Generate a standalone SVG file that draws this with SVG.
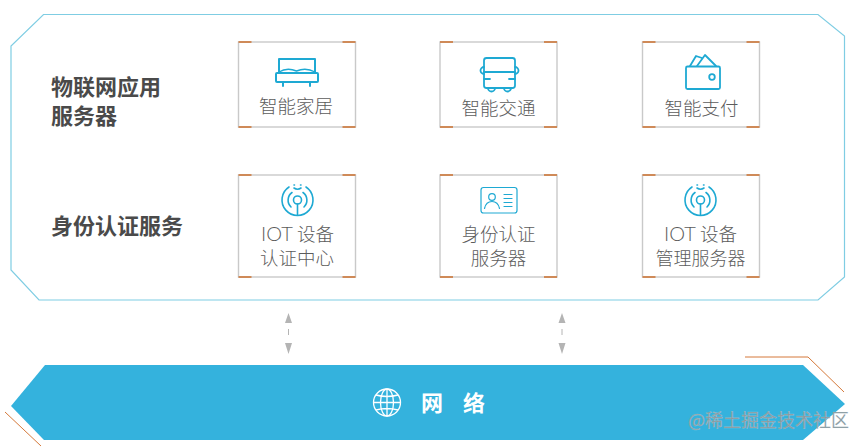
<svg xmlns="http://www.w3.org/2000/svg" width="865" height="447" viewBox="0 0 865 447">
<style>
text{font-family:"Noto Sans CJK SC","Noto Sans",sans-serif}
.card{fill:#fff;stroke:#c9c9c9;stroke-width:1.4}
.cn{fill:none;stroke:#cf8a58;stroke-width:2}
.lb{font-size:18.500px;fill:#5c5c5c;text-anchor:middle;font-weight:300}
.la{font-family:Lato,sans-serif;font-size:20px;font-weight:300}
.hd{font-size:22px;fill:#4a4a4a;font-weight:700}
.ic{fill:none;stroke:#1ea9d3;stroke-width:1.600;stroke-linejoin:round;stroke-linecap:round}
.ar{fill:#b4b4b4}
</style>
<defs>
<g id="corners"><path class="cn" d="M0 0H13M104 0H117M0 85H13M104 85H117"/></g>
<g id="corners2"><path class="cn" d="M0 0H13M104 0H117M0 102H13M104 102H117"/></g>
<g id="signal" class="ic" stroke-width="1.400">
<path d="M-8.500 -13A15.500 15.500 0 1 0 8.500 -13"/>
<path d="M-5.500 -7.500A9.500 9.500 0 0 0 -6.500 7M5.500 -7.500A9.500 9.500 0 0 1 6.500 7"/>
<circle cx="0" cy="0" r="4"/>
<path d="M0 4V15"/>
<path d="M-3.500 -12Q0 -9.500 3.500 -12M-3.500 -15H-3M3 -15H3.500"/>
</g>
</defs>
<rect width="865" height="447" fill="#fff"/>
<g id="panel"><path d="M43.500 14.500H818L844.500 36V277L818 300H39L11 270V46Z" fill="#fff" stroke="#7fcde3" stroke-width="1.200"/>
<text class="hd" x="51" y="95">物联网应用</text><text class="hd" x="51" y="124">服务器</text><text class="hd" x="51" y="234">身份认证服务</text></g>
<g id="card-home"><rect class="card" x="238.500" y="42" width="117" height="85"/><use href="#corners" x="238.500" y="42"/>
<g class="ic" style="stroke-width:2"><path d="M279 73V59H315V73"/><path d="M279 72Q287 67 296.500 71Q306 67 315 72" stroke-width="1.400"/><rect x="276" y="73" width="42" height="9" rx="1"/><path d="M283 82V86M310 82V86"/></g>
<text class="lb" x="296" y="113">智能家居</text></g>
<g id="card-traffic"><rect class="card" x="440" y="42" width="117" height="85"/><use href="#corners" x="440" y="42"/>
<g class="ic" style="stroke-width:1.800"><rect x="484" y="58" width="31" height="30" rx="2.500"/><path d="M484 72H515M484 79H490M509 79H515M484 67A3.500 3.500 0 0 0 484 74M515 67A3.500 3.500 0 0 1 515 74M488 88A3.500 3.500 0 0 0 495 88M504 88A3.500 3.500 0 0 0 511 88"/></g>
<text class="lb" x="498.500" y="115">智能交通</text></g>
<g id="card-pay"><rect class="card" x="642.500" y="42" width="117" height="85"/><use href="#corners" x="642.500" y="42"/>
<g class="ic" style="stroke-width:1.800"><rect x="686" y="66.500" width="34" height="22.500" rx="1.500"/><path d="M690 66L696 56L702 58M697 66L705 55L716 66"/><circle cx="712" cy="77" r="2.800"/></g>
<text class="lb" x="701.500" y="115">智能支付</text></g>
<g id="card-auth"><rect class="card" x="238.500" y="175" width="117" height="102"/><use href="#corners2" x="238.500" y="175"/>
<use href="#signal" x="297.500" y="200"/>
<text class="lb" x="297.500" y="241"><tspan class="la">IOT</tspan> 设备</text><text class="lb" x="297" y="265">认证中心</text></g>
<g id="card-id"><rect class="card" x="440" y="175" width="117" height="102"/><use href="#corners2" x="440" y="175"/>
<g class="ic" style="stroke-width:1.200"><rect x="481" y="187.500" width="36" height="25.500" rx="2.500"/><circle cx="492" cy="197" r="3.300"/><path d="M484.500 208.500Q486 201.500 492 201.500Q498 201.500 499.500 208.500M504 194.500H512M504 198.500H512M504 202.500H512M504 206.500H512"/></g>
<text class="lb" x="498.500" y="241">身份认证</text><text class="lb" x="498.500" y="265">服务器</text></g>
<g id="card-mgmt"><rect class="card" x="642.500" y="175" width="117" height="102"/><use href="#corners2" x="642.500" y="175"/>
<use href="#signal" x="700.500" y="200"/>
<text class="lb" x="700.500" y="241"><tspan class="la">IOT</tspan> 设备</text><text class="lb" x="700.500" y="265" style="font-size:18px">管理服务器</text></g>
<g id="connectors">
<path class="ar" d="M288.500 313L292 323H285ZM288.500 354L285 343H292Z"/><path d="M288.500 329V335" stroke="#b4b4b4"/>
<path class="ar" d="M562 313L565.500 323H558.500ZM562 354L558.500 343H565.500Z"/><path d="M562 329V335" stroke="#b4b4b4"/>
</g>
<g id="network"><path d="M45 365H803L845 404L803 440H44L11 406Z" fill="#34b2dd"/>
<g fill="none" stroke="#fff" stroke-width="1.300"><circle cx="387" cy="402.500" r="13.500"/><ellipse cx="387" cy="402.500" rx="6.500" ry="13.500"/><path d="M387 389V416M373.500 402.500H400.500M376 395Q387 398 398 395M376 410Q387 407 398 410"/></g>
<text x="421" y="411" font-size="22" font-weight="700" fill="#fff">网</text><text x="463" y="411" font-size="22" font-weight="700" fill="#fff">络</text></g>
<g id="accents" fill="none" stroke="#d5793a" stroke-width="1"><path d="M5 412L41 446"/><path d="M745 357H808L844 392"/></g>
<text x="688" y="427" font-size="18" fill="#87989f" stroke="#e6eef2" stroke-opacity=".35" stroke-width=".5">@稀土掘金技术社区</text>
</svg>
